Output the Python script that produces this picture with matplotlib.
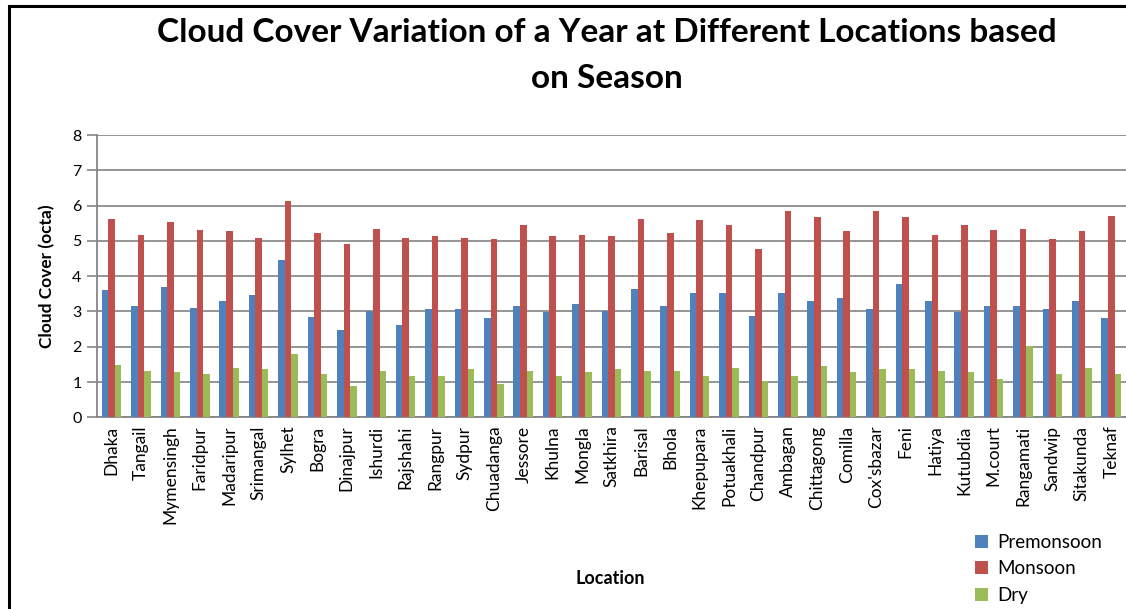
import matplotlib
matplotlib.use('Agg')
import matplotlib.pyplot as plt
import numpy as np
from matplotlib import rcParams
from matplotlib.patches import Rectangle

rcParams['font.family'] = ['Lato', 'DejaVu Sans']

# Dataset
locations = ['Dhaka', 'Tangail', 'Mymensingh', 'Faridpur', 'Madaripur', 'Srimangal',
             'Sylhet', 'Bogra', 'Dinajpur', 'Ishurdi', 'Rajshahi', 'Rangpur', 'Sydpur',
             'Chuadanga', 'Jessore', 'Khulna', 'Mongla', 'Satkhira', 'Barisal', 'Bhola',
             'Khepupara', 'Potuakhali', 'Chandpur', 'Ambagan', 'Chittagong', 'Comilla',
             "Cox'sbazar", 'Feni', 'Hatiya', 'Kutubdia', 'M.court', 'Rangamati',
             'Sandwip', 'Sitakunda', 'Teknaf']
premonsoon = [3.60, 3.15, 3.69, 3.11, 3.29, 3.47, 4.46, 2.83, 2.47, 3.01, 2.62, 3.06,
              3.06, 2.80, 3.15, 2.99, 3.20, 3.01, 3.64, 3.15, 3.51, 3.51, 2.88, 3.51,
              3.29, 3.38, 3.06, 3.79, 3.29, 2.97, 3.15, 3.15, 3.06, 3.29, 2.80]
monsoon = [5.63, 5.17, 5.54, 5.32, 5.27, 5.09, 6.12, 5.22, 4.90, 5.35, 5.09, 5.13,
           5.09, 5.04, 5.45, 5.13, 5.17, 5.13, 5.63, 5.22, 5.58, 5.45, 4.78, 5.85,
           5.68, 5.27, 5.85, 5.68, 5.17, 5.45, 5.32, 5.35, 5.04, 5.27, 5.71]
dry = [1.49, 1.31, 1.27, 1.22, 1.40, 1.36, 1.80, 1.22, 0.90, 1.31, 1.17, 1.17,
       1.36, 0.94, 1.31, 1.17, 1.27, 1.36, 1.31, 1.31, 1.17, 1.40, 1.04, 1.17,
       1.44, 1.27, 1.36, 1.36, 1.31, 1.27, 1.09, 2.03, 1.22, 1.40, 1.22]

fig = plt.figure(figsize=(11.26, 6.09), dpi=100)
ax = fig.add_axes([0.0861, 0.3148, 0.9139, 0.4635])

x = np.arange(len(locations))
w = 1 / 4.5
ax.bar(x - w, premonsoon, w, color='#4F81BD', label='Premonsoon', zorder=3)
ax.bar(x, monsoon, w, color='#C0504D', label='Monsoon', zorder=3)
ax.bar(x + w, dry, w, color='#9BBB59', label='Dry', zorder=3)

ax.set_xlim(-0.5, len(locations) - 0.5)
ax.set_ylim(0, 8)
ax.set_yticks(range(0, 9))
ax.set_xticks(x)
ax.set_xticklabels(locations, rotation=90, fontsize=12.5)
ax.tick_params(axis='x', length=0, pad=6)
ax.tick_params(axis='y', length=7, width=1.2, color='#868686', labelsize=11.5, pad=4)
ax.grid(axis='y', color='#8c8c8c', linewidth=1.3, zorder=0)
for s in ['top', 'right']:
    ax.spines[s].set_visible(False)
for s in ['left', 'bottom']:
    ax.spines[s].set_color('#868686')
    ax.spines[s].set_linewidth(1.3)

ax.set_ylabel('Cloud Cover (octa)', fontsize=12.5, fontweight='bold', labelpad=12)
fig.text(0.542, 1 - 579 / 609, 'Location', fontsize=13, fontweight='bold',
         ha='center', va='center')

fig.text(0.539, 1 - 33 / 609, 'Cloud Cover Variation of a Year at Different Locations based',
         fontsize=24, fontweight='bold', ha='center', va='center')
fig.text(0.539, 1 - 78 / 609, 'on Season',
         fontsize=24, fontweight='bold', ha='center', va='center')

fig.legend(loc='upper left', bbox_to_anchor=(0.866, 1 - 534 / 609), frameon=False,
           fontsize=13.5, handlelength=0.7, handleheight=0.7, handletextpad=0.5,
           labelspacing=0.5, borderpad=0, borderaxespad=0)

# black frame around the chart
fig.patches.append(Rectangle((9 / 1126, -0.05), 1.2, 1.05 - 6 / 609,
                             transform=fig.transFigure, fill=False,
                             edgecolor='black', linewidth=2.2))

plt.savefig('out.png', dpi=100)
